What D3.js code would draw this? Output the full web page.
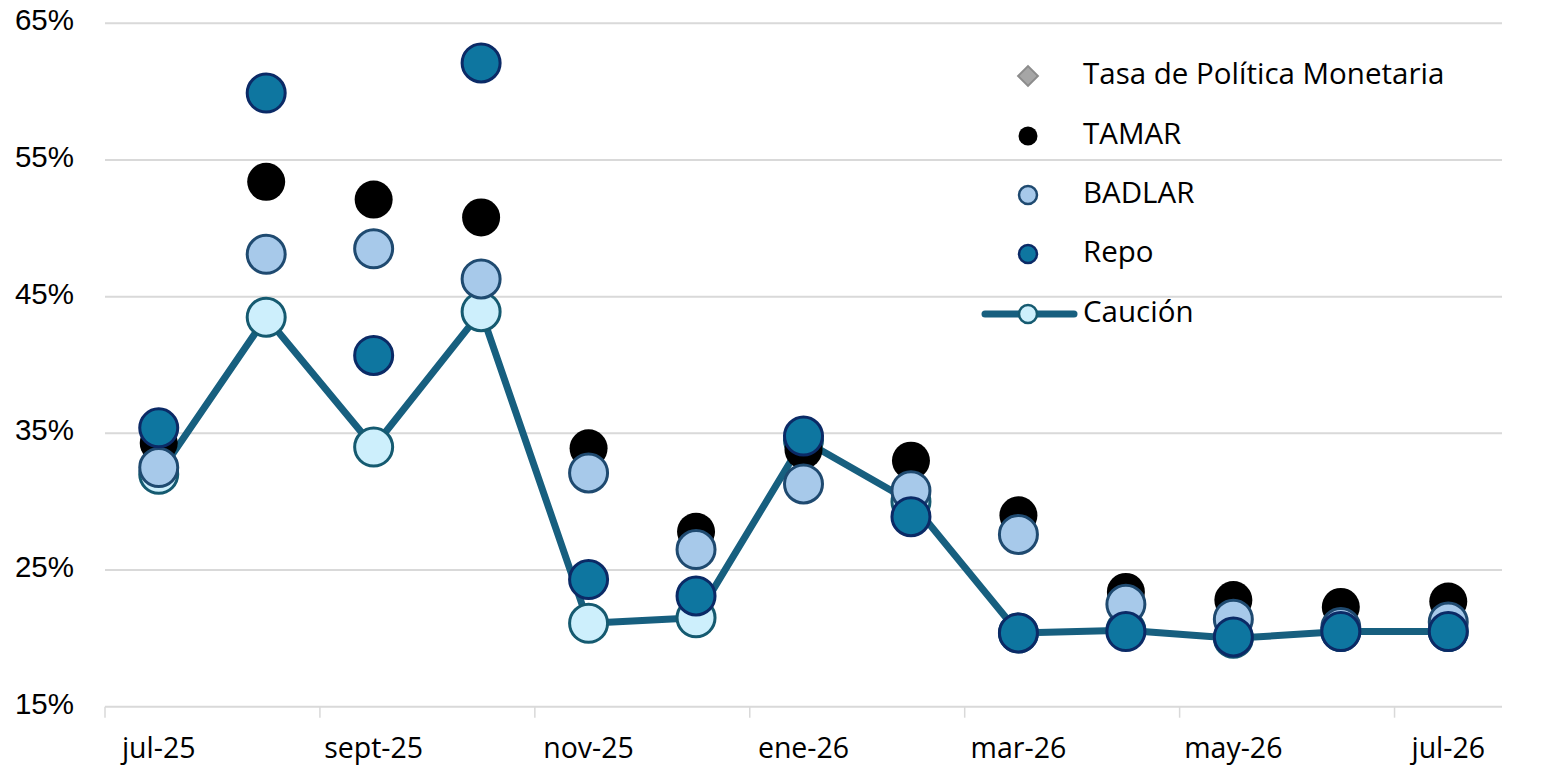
<!DOCTYPE html>
<html><head><meta charset="utf-8">
<script src="https://cdn.jsdelivr.net/npm/d3@7"></script>
<style>html,body{margin:0;padding:0;background:#fff;}svg{display:block;}</style>
</head><body>
<svg id="c" width="1567" height="783"></svg>
<script>
const months = ["jul-25","ago-25","sept-25","oct-25","nov-25","dic-25","ene-26","feb-26","mar-26","abr-26","may-26","jun-26","jul-26"];
const tickLabels = ["jul-25","sept-25","nov-25","ene-26","mar-26","may-26","jul-26"];
const yTicks = [15,25,35,45,55,65];
const tpm    = [null,null,null,null,null,null,null,null,null,null,null,null,null];
const tamar  = [34.3,53.4,52.1,50.8,33.9,27.8,33.8,33.0,29.0,23.4,22.8,22.3,22.7];
const badlar = [32.5,48.1,48.5,46.3,32.1,26.5,31.3,30.8,27.6,22.5,21.4,20.8,21.2];
const repo   = [35.4,59.9,40.7,62.1,24.3,23.1,34.8,28.9,20.4,20.5,20.1,20.5,20.5];
const caucion= [32.0,43.5,34.0,43.9,21.1,21.5,34.5,30.0,20.4,20.6,20.0,20.5,20.5];

const svg = d3.select("#c");
const L=105, R=1502, T=23.3, B=706.7;
const x = d3.scaleBand().domain(months).range([L,R]);
const y = d3.scaleLinear().domain([15,65]).range([B,T]);
const cx = m => x(m)+x.bandwidth()/2;

// gridlines
svg.append("g").selectAll("line").data(yTicks).join("line")
  .attr("x1",L).attr("x2",R).attr("y1",d=>y(d)).attr("y2",d=>y(d))
  .attr("stroke","#d9d9d9").attr("stroke-width",2);

// y labels
svg.append("g").selectAll("text").data(yTicks).join("text")
  .attr("x",74).attr("y",d=>y(d)+7).attr("text-anchor","end")
  .attr("font-family","Liberation Sans, Arial, sans-serif").attr("font-size",29.5).attr("fill","#000")
  .text(d=>d+"%");

// x ticks at boundaries every 2 months
const tickMonths = months.filter((m,i)=>i%2===0);
svg.append("g").selectAll("line").data(tickMonths).join("line")
  .attr("x1",d=>x(d)).attr("x2",d=>x(d)).attr("y1",B).attr("y2",B+11)
  .attr("stroke","#d9d9d9").attr("stroke-width",1.5);
svg.append("g").selectAll("text").data(tickLabels).join("text")
  .attr("x",(d,i)=>cx(months[i*2])).attr("y",758).attr("text-anchor","middle")
  .attr("font-family","Open Sans, Noto Sans, sans-serif").attr("font-size",28.5).attr("fill","#000")
  .text(d=>d);

const R0 = 19;
// Caución line + markers
const line = d3.line().defined(d=>d[1]!=null).x(d=>cx(d[0])).y(d=>y(d[1]));
svg.append("path").datum(months.map((m,i)=>[m,caucion[i]])).attr("d",line)
  .attr("fill","none").attr("stroke","#175F7F").attr("stroke-width",7).attr("stroke-linejoin","round");
function dots(data, fill, stroke, sw){
  svg.append("g").selectAll("circle").data(months.map((m,i)=>[m,data[i]]).filter(d=>d[1]!=null)).join("circle")
    .attr("cx",d=>cx(d[0])).attr("cy",d=>y(d[1])).attr("r",R0)
    .attr("fill",fill).attr("stroke",stroke).attr("stroke-width",sw);
}
dots(caucion,"#CDEFFC","#155A70",3);
dots(tamar,"#000","#000",0);
dots(badlar,"#A7C9EA","#1F4A70",3);
dots(repo,"#0E76A0","#0B2A66",3);
// TPM (no data)
svg.append("g").selectAll("path").data(months.map((m,i)=>[m,tpm[i]]).filter(d=>d[1]!=null)).join("path")
  .attr("transform",d=>`translate(${cx(d[0])},${y(d[1])})`)
  .attr("d",d3.symbol(d3.symbolDiamond,300)).attr("fill","#A6A6A6").attr("stroke","#808080");

// legend
const lg = svg.append("g").attr("font-family","Open Sans, Noto Sans, sans-serif").attr("font-size",29.5);
const lx=1028, tx=1083;
const rows=[76,136,195,254,314];
lg.append("path").attr("transform",`translate(${lx},${rows[0]}) rotate(45)`)
  .attr("d","M-7,-7H7V7H-7Z").attr("fill","#A6A6A6").attr("stroke","#8C8C8C").attr("stroke-width",2);
lg.append("circle").attr("cx",lx).attr("cy",rows[1]).attr("r",9.5).attr("fill","#000");
lg.append("circle").attr("cx",lx).attr("cy",rows[2]).attr("r",9).attr("fill","#A7C9EA").attr("stroke","#1F4A70").attr("stroke-width",2.5);
lg.append("circle").attr("cx",lx).attr("cy",rows[3]).attr("r",9).attr("fill","#0E76A0").attr("stroke","#0B2A66").attr("stroke-width",2.5);
lg.append("line").attr("x1",985).attr("x2",1074).attr("y1",rows[4]).attr("y2",rows[4])
  .attr("stroke","#175F7F").attr("stroke-width",7).attr("stroke-linecap","round");
lg.append("circle").attr("cx",lx).attr("cy",rows[4]).attr("r",9).attr("fill","#CDEFFC").attr("stroke","#155A70").attr("stroke-width",2.5);
const names=["Tasa de Política Monetaria","TAMAR","BADLAR","Repo","Caución"];
lg.selectAll("text").data(names).join("text")
  .attr("x",tx).attr("y",(d,i)=>rows[i]+8).attr("fill","#000").text(d=>d);
</script>
</body></html>
